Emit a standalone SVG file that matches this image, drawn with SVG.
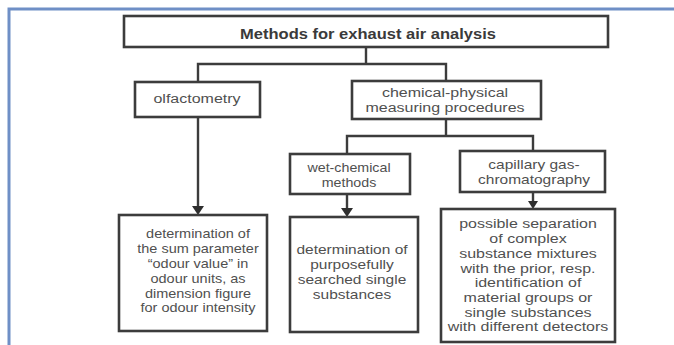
<svg xmlns="http://www.w3.org/2000/svg" width="674" height="345" viewBox="0 0 674 345">
<style>
.box{fill:#fff;stroke:#3c3c3c;stroke-width:2.6}
.con{fill:none;stroke:#3c3c3c;stroke-width:2.4}
.t{font-family:"Liberation Sans",Arial,sans-serif;font-size:12.5px;fill:#505050;text-anchor:middle}
.tb{font-family:"Liberation Sans",Arial,sans-serif;font-size:14px;font-weight:bold;fill:#3a3a3a;text-anchor:middle}
.frame{fill:none;stroke:#6f8fc6;stroke-width:3}
.ah{fill:#2e2e2e}
</style>
<rect width="674" height="345" fill="#fff"/>
<path class="frame" d="M9,345 L9,9 L674,9"/>

<g id="connectors">
<path class="con" d="M366,47 L366,64 M198,82 L198,64 L446,64 L446,81"/>
<path class="con" d="M446,119 L446,136 M347,154 L347,136 L533,136 L533,151"/>
<line class="con" x1="198" y1="117" x2="198" y2="207"/>
<line class="con" x1="347" y1="194" x2="347" y2="209"/>
<line class="con" x1="533" y1="192" x2="533" y2="201"/>
<path class="ah" d="M192,206 L204,206 L198,215 Z"/>
<path class="ah" d="M341,208 L353,208 L347,217 Z"/>
<path class="ah" d="M528,201 L538,201 L533,209 Z"/>
</g>

<g id="title">
<rect class="box" x="124" y="16" width="484" height="31"/>
<text class="tb" transform="translate(368 0) scale(1.18 1)" x="0" y="39">Methods for exhaust air analysis</text>
</g>

<g id="olfactometry">
<rect class="box" x="135" y="82" width="125" height="35"/>
<text class="t" transform="translate(197 0) scale(1.28 1)" x="0" y="103.5">olfactometry</text>
</g>

<g id="chemphys">
<rect class="box" x="352" y="81" width="189" height="38"/>
<text class="t" transform="translate(445 0) scale(1.28 1)"><tspan x="0" y="97.5">chemical-physical</tspan><tspan x="0" y="112.5">measuring procedures</tspan></text>
</g>

<g id="wetchem">
<rect class="box" x="290" y="154" width="120" height="40"/>
<text class="t" transform="translate(349 0) scale(1.14 1)"><tspan x="0" y="172">wet-chemical</tspan><tspan x="0" y="187">methods</tspan></text>
</g>

<g id="capillary">
<rect class="box" x="460" y="151" width="145" height="41"/>
<text class="t" transform="translate(534 0) scale(1.24 1)"><tspan x="0" y="169">capillary gas-</tspan><tspan x="0" y="184">chromatography</tspan></text>
</g>

<g id="odour">
<rect class="box" x="119" y="215" width="148" height="116"/>
<text class="t" transform="translate(198 0) scale(1.16 1)"><tspan x="0" y="238.5">determination of</tspan><tspan x="0" y="253.3">the sum parameter</tspan><tspan x="0" y="268.1">“odour value” in</tspan><tspan x="0" y="282.9">odour units, as</tspan><tspan x="0" y="297.7">dimension figure</tspan><tspan x="0" y="312.5">for odour intensity</tspan></text>
</g>

<g id="single">
<rect class="box" x="290" y="217" width="128" height="115"/>
<text class="t" transform="translate(352 0) scale(1.24 1)"><tspan x="0" y="254.5">determination of</tspan><tspan x="0" y="269.5">purposefully</tspan><tspan x="0" y="284.5">searched single</tspan><tspan x="0" y="299.5">substances</tspan></text>
</g>

<g id="separation">
<rect class="box" x="441" y="209" width="174" height="133"/>
<text class="t" transform="translate(528 0) scale(1.28 1)"><tspan x="0" y="228.5">possible separation</tspan><tspan x="0" y="243.2">of complex</tspan><tspan x="0" y="257.9">substance mixtures</tspan><tspan x="0" y="272.6">with the prior, resp.</tspan><tspan x="0" y="287.3">identification of</tspan><tspan x="0" y="302">material groups or</tspan><tspan x="0" y="316.7">single substances</tspan><tspan x="0" y="331.4">with different detectors</tspan></text>
</g>
</svg>
